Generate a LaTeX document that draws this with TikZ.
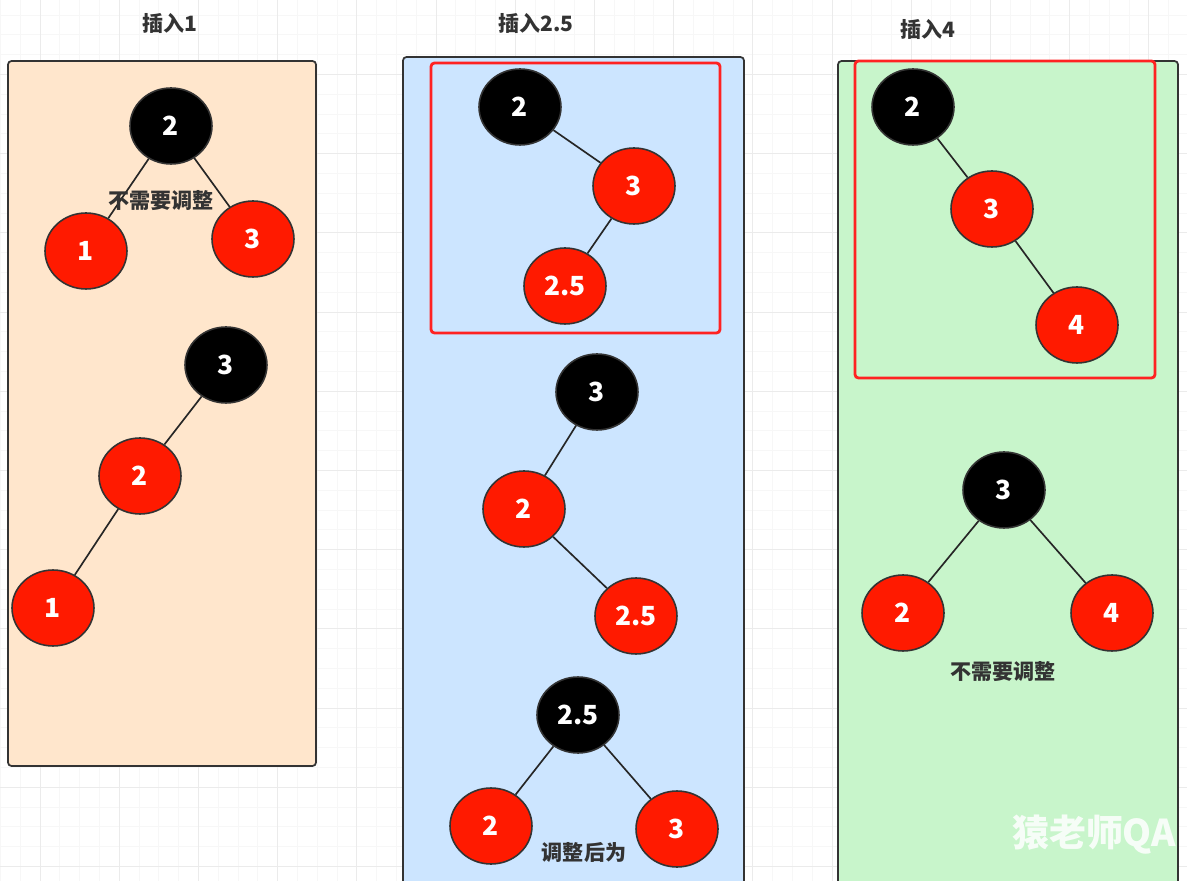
\documentclass[tikz,border=0pt]{standalone}
\usepackage{fontspec}
\setmainfont{Noto Sans CJK SC}
\usetikzlibrary{shapes.geometric}
\definecolor{peach}{HTML}{FFE6CC}
\definecolor{skyblue}{HTML}{CCE5FF}
\definecolor{mint}{HTML}{C8F5CB}
\definecolor{rbred}{HTML}{FF1A00}
\definecolor{boxred}{HTML}{FF2222}
\definecolor{inkgray}{HTML}{333333}
\begin{document}
\begin{tikzpicture}[x=0.02cm, y=-0.02cm,
    every node/.style={font=\bfseries\fontsize{12}{14}\selectfont, text=inkgray},
    rbnode/.style={ellipse, draw=inkgray, line width=0.9pt, inner sep=0pt,
        minimum width=1.64cm, minimum height=1.52cm, text=white,
        font=\bfseries\fontsize{15}{15}\selectfont},
    blacknode/.style={rbnode, fill=black},
    rednode/.style={rbnode, fill=rbred},
    edge/.style={draw=black!85, line width=0.95pt},
    panel/.style={draw=inkgray, line width=1pt, rounded corners=2pt},
    markbox/.style={draw=boxred, line width=1.6pt, rounded corners=2pt}]

    % Canvas and grid
    \useasboundingbox (0,0) rectangle (1187,881);
    \fill[white] (0,0) rectangle (1187,881);
    \foreach \i in {-2,...,58} {
        \draw[black!3, line width=0.4pt] ({40+19.8*\i},0) -- ({40+19.8*\i},881);
    }
    \foreach \i in {-4,...,44} {
        \draw[black!3, line width=0.4pt] (0,{74.4+19.8*\i}) -- (1187,{74.4+19.8*\i});
    }
    \foreach \i in {0,...,14} {
        \draw[black!8, line width=0.5pt] ({40+79.2*\i},0) -- ({40+79.2*\i},881);
    }
    \foreach \i in {-1,...,10} {
        \draw[black!8, line width=0.5pt] (0,{74.4+79.2*\i}) -- (1187,{74.4+79.2*\i});
    }

    % Panels
    \filldraw[panel, fill=peach] (8,61) rectangle (316,766);
    \filldraw[panel, fill=skyblue] (403,57) rectangle (744,900);
    \filldraw[panel, fill=mint] (838,61) rectangle (1178,900);

    % Titles
    \node (t1) at (170,23) {插入1};
    \node (t2) at (536,23) {插入2.5};
    \node (t3) at (928,29) {插入4};

    % Insert 1
    \node[blacknode] (a2) at (171,126) {2};
    \node[rednode] (a1) at (86,251) {1};
    \node[rednode] (a3) at (253,239) {3};
    \draw[edge] (a2) -- (a1);
    \draw[edge] (a2) -- (a3);
    \node (n1) at (161,201) {不需要调整};

    \node[blacknode] (b3) at (226,365) {3};
    \node[rednode] (b2) at (140,476) {2};
    \node[rednode] (b1) at (53,608) {1};
    \draw[edge] (b3) -- (b2);
    \draw[edge] (b2) -- (b1);

    % Insert 2.5
    \draw[markbox] (431,63) rectangle (720,333);
    \node[blacknode] (c2) at (520,107) {2};
    \node[rednode] (c3) at (634,186) {3};
    \node[rednode] (c25) at (565,286) {2.5};
    \draw[edge] (c2) -- (c3);
    \draw[edge] (c3) -- (c25);

    \node[blacknode] (d3) at (597,392) {3};
    \node[rednode] (d2) at (524,509) {2};
    \node[rednode] (d25) at (636,616) {2.5};
    \draw[edge] (d3) -- (d2);
    \draw[edge] (d2) -- (d25);

    \node[blacknode] (e25) at (578,715) {2.5};
    \node[rednode] (e2) at (491,826) {2};
    \node[rednode] (e3) at (677,829) {3};
    \draw[edge] (e25) -- (e2);
    \draw[edge] (e25) -- (e3);
    \node (n2) at (584,853) {调整后为};

    % Insert 4
    \draw[markbox] (855,61) rectangle (1155,378);
    \node[blacknode] (f2) at (913,107) {2};
    \node[rednode] (f3) at (992,209) {3};
    \node[rednode] (f4) at (1077,325) {4};
    \draw[edge] (f2) -- (f3);
    \draw[edge] (f3) -- (f4);

    \node[blacknode] (g3) at (1004,490) {3};
    \node[rednode] (g2) at (903,613) {2};
    \node[rednode] (g4) at (1112,613) {4};
    \draw[edge] (g3) -- (g2);
    \draw[edge] (g3) -- (g4);
    \node (n3) at (1003,672) {不需要调整};

    % Watermark
    \node[anchor=west, text=white, opacity=0.85, font=\bfseries\fontsize{21}{21}\selectfont] (wm) at (1006,835) {猿老师QA};

\end{tikzpicture}
\end{document}
